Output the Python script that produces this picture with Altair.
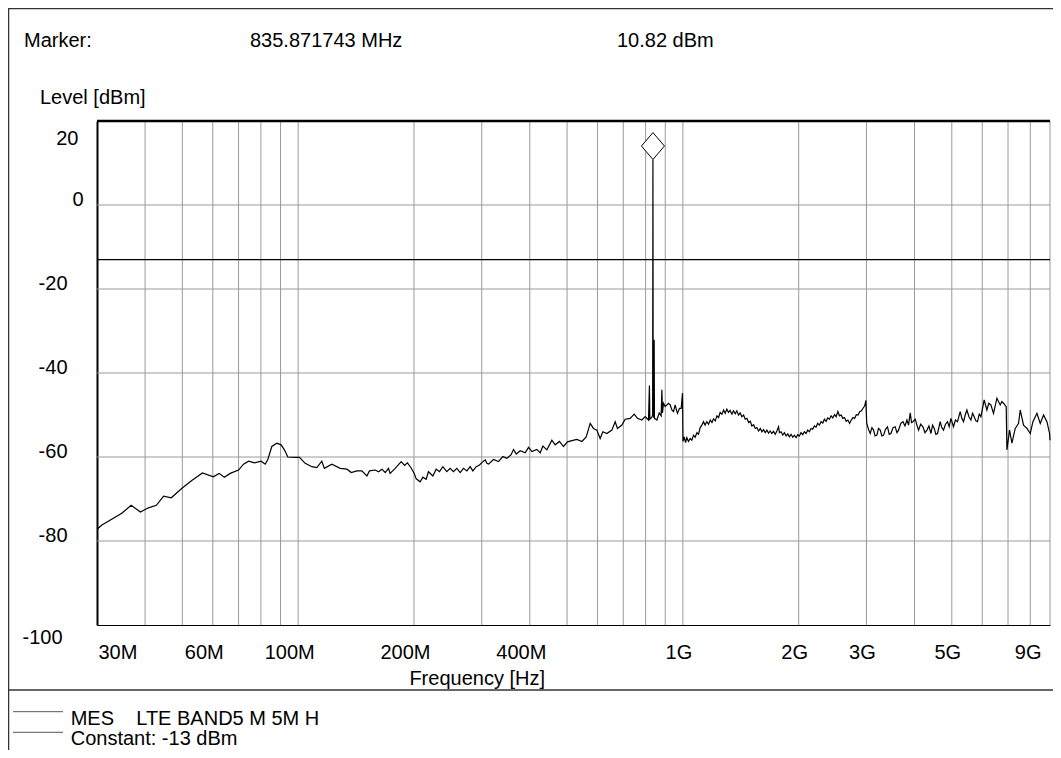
import altair as alt
import pandas as pd

# ---------------- data ----------------
freq_mhz = [
    30.0, 30.9, 34.8, 36.8, 38.9, 40.8, 42.8, 44.7, 46.8, 49.8, 52.9, 56.4, 60.2, 62.3, 64.3, 66.6,
    70.0, 72.1, 74.3, 77.0, 80.1, 82.1, 83.4, 85.4, 88.0, 90.3, 92.1, 94.0, 98.2, 100.8, 104.3, 108.5,
    111.8, 115.2, 117.0, 122.3, 128.6, 133.9, 137.4, 142.1, 146.4, 150.9, 153.2, 158.6, 161.8, 165.1,
    168.4, 171.7, 173.4, 178.7, 185.3, 189.0, 192.3, 196.3, 200.3, 202.7, 207.5, 210.9, 215.1, 218.1,
    223.9, 228.4, 233.0, 237.7, 243.5, 248.3, 253.3, 258.5, 263.7, 269.0, 274.5, 280.0, 284.5, 290.2,
    296.0, 302.1, 306.3, 309.4, 312.5, 322.0, 331.7, 340.5, 348.8, 357.3, 362.9, 368.8, 377.7, 389.2,
    397.0, 405.1, 417.4, 425.7, 432.6, 443.1, 456.5, 465.7, 477.8, 489.4, 501.2, 514.6, 530.2, 546.4,
    560.6, 574.2, 585.7, 597.5, 609.5, 619.4, 634.4, 653.7, 666.8, 676.1, 694.1, 707.9, 729.4, 747.1,
    762.1, 782.4, 798.0, 814.0, 818.5, 820.5, 830.6, 834.5, 835.871743, 837.2, 840.5, 842.0, 843.5,
    855.9, 868.0, 878.0, 881.9, 885.0, 890.5, 899.5, 917.5, 926.9, 936.3, 945.4, 955.0, 964.7, 968.3,
    979.9, 990.0, 997.7,
    1000.5, 1008, 1016, 1024, 1034, 1044.7, 1055, 1066, 1076, 1088, 1098, 1109, 1120, 1131.6, 1142,
    1154, 1166, 1178, 1190, 1201.5, 1214, 1226, 1238, 1250, 1263, 1276, 1288, 1301, 1314, 1327, 1341,
    1354, 1368, 1381, 1395, 1409, 1423, 1438, 1452, 1467, 1482, 1497, 1511, 1527, 1542, 1557, 1573,
    1589, 1605, 1620, 1637, 1653, 1670, 1686, 1703, 1720, 1738, 1755, 1773, 1782, 1800, 1818, 1836,
    1855, 1873, 1892, 1911, 1930, 1949, 1969, 1988, 2008, 2028, 2049, 2069, 2090, 2111, 2132, 2153,
    2175, 2197, 2219, 2241, 2264, 2287, 2310, 2333, 2356, 2380, 2404, 2428, 2453, 2478, 2503, 2528,
    2553, 2579, 2605, 2631, 2658, 2685, 2712, 2740, 2768, 2796, 2824, 2853, 2882, 2911, 2940, 2969,
    2990,
    3005, 3040, 3069, 3100, 3131, 3160, 3194, 3225, 3258, 3290, 3323, 3363, 3403, 3438, 3473, 3518,
    3564, 3600, 3636, 3685, 3733, 3778, 3823, 3860, 3899, 3930, 3962, 4017, 4058, 4098, 4150, 4207,
    4258, 4309, 4360, 4413, 4457, 4501, 4546, 4591, 4665, 4710, 4758, 4815, 4873, 4923, 4973, 5051,
    5110, 5174, 5258, 5310, 5363, 5418, 5473, 5540, 5606, 5662, 5718, 5775, 5831, 5892, 5952, 6069,
    6168, 6240, 6318, 6418, 6550, 6681, 6750, 6815, 6925,
    6954, 7064, 7166, 7309, 7456, 7531, 7682, 7839, 7996, 8126, 8323, 8490, 8660, 8837, 8977, 9000,
]
level_dbm = [
    -77.2, -76.2, -73.4, -71.5, -73.1, -72.1, -71.5, -69.3, -69.7, -67.5, -65.6, -63.8, -64.7, -63.9, -64.8, -63.9,
    -63.1, -61.7, -61.0, -61.4, -61.0, -61.7, -60.6, -57.5, -56.7, -57.1, -58.3, -60.0, -60.1, -60.1, -61.5, -62.3,
    -62.5, -61.0, -62.7, -61.7, -62.7, -62.9, -63.7, -63.3, -63.3, -64.5, -63.3, -63.1, -63.5, -62.9,
    -63.7, -62.7, -63.9, -62.7, -61.1, -62.0, -61.4, -62.5, -63.9, -65.2, -65.9, -64.8, -65.3, -63.5,
    -64.5, -62.9, -63.5, -62.3, -63.5, -62.7, -63.5, -62.7, -63.7, -62.7, -63.3, -62.3, -63.3, -62.3,
    -61.9, -61.1, -60.7, -61.5, -61.7, -60.6, -61.1, -59.9, -60.3, -59.5, -58.2, -59.3, -58.5, -59.0,
    -57.7, -58.7, -58.2, -59.0, -57.4, -58.3, -56.0, -57.1, -56.3, -57.5, -56.4, -56.1, -55.8, -56.3,
    -55.2, -52.0, -53.2, -53.6, -55.6, -54.0, -54.4, -53.6, -51.6, -53.2, -52.4, -51.0, -50.8, -49.8,
    -50.8, -51.2, -50.4, -51.2, -43.0, -51.0, -50.5, -50.0, 10.82, -50.0, -50.6, -32.1, -50.8,
    -51.2, -49.5, -50.2, -44.0, -49.5, -47.2, -48.0, -47.2, -47.6, -48.8, -49.2, -47.6, -49.2, -49.6,
    -48.4, -48.4, -44.8,
    -56.3, -55.2, -56.6, -55.4, -56.3, -55.6, -56.0, -54.8, -55.3, -54.2, -54.6, -53.0, -52.4, -51.6, -52.4,
    -51.6, -52.2, -51.2, -51.8, -50.9, -51.4, -50.2, -50.6, -49.4, -49.8, -48.8, -49.6, -48.6, -49.4, -48.9, -49.8,
    -49.0, -49.7, -49.0, -50.0, -49.5, -50.4, -50.0, -51.0, -50.8, -51.8, -51.5, -52.6, -52.3, -53.2, -53.0, -53.8,
    -53.2, -54.0, -53.5, -54.2, -53.6, -54.3, -53.8, -54.4, -53.9, -54.6, -53.8, -52.8, -54.2, -54.0, -54.8, -54.2,
    -55.0, -54.5, -55.2, -54.6, -55.3, -54.8, -55.4, -54.7, -55.0, -54.2, -54.7, -54.0, -54.4, -53.6, -54.0, -53.2,
    -53.4, -52.6, -52.9, -52.0, -52.4, -51.6, -51.9, -51.0, -51.5, -50.7, -51.0, -50.2, -50.7, -49.9, -50.4, -49.2,
    -50.2, -50.0, -50.8, -50.6, -51.5, -51.2, -52.0, -51.2, -50.6, -50.8, -49.9, -50.0, -49.2, -49.0, -48.4, -47.8,
    -46.5,
    -52.0, -53.5, -54.4, -53.0, -53.6, -55.0, -54.8, -53.2, -53.6, -55.0, -54.8, -53.4, -52.8, -54.6, -54.4, -53.0,
    -52.8, -54.2, -53.6, -52.0, -51.6, -52.6, -51.2, -52.4, -49.5, -51.8, -51.6, -51.0, -52.4, -53.6, -52.2, -52.8,
    -54.2, -53.6, -52.6, -54.4, -52.4, -53.2, -54.6, -54.4, -51.6, -53.0, -53.6, -52.2, -51.6, -52.8, -50.8, -52.8,
    -51.2, -51.6, -49.2, -50.8, -51.6, -50.0, -48.8, -50.4, -51.2, -49.6, -50.4, -51.4, -51.6, -49.8, -50.4, -46.4,
    -48.8, -47.2, -47.6, -49.6, -46.0, -47.6, -46.8, -47.2, -48.0,
    -58.3, -53.6, -56.7, -53.2, -52.0, -48.8, -52.4, -53.2, -54.4, -51.6, -49.6, -52.0, -50.0, -51.6, -54.4, -56.0,
]

grid_x_mhz = [40, 50, 60, 70, 80, 90, 100, 200, 300, 400, 500, 600, 700, 800, 900,
              1000, 2000, 3000, 4000, 5000, 6000, 7000, 8000, 9000]
grid_y_dbm = [0, -20, -40, -60, -80]
xtick_mhz = [30, 60, 100, 200, 400, 1000, 2000, 3000, 5000, 9000]
xtick_labels = ["30M", "60M", "100M", "200M", "400M", "1G", "2G", "3G", "5G", "9G"]
ytick_dbm = [20, 0, -20, -40, -60, -80, -100]
limit_dbm = [-13]
marker_mhz = [835.871743]
marker_dbm = [10.82]

marker_text = ["Marker:", "835.871743 MHz", "10.82 dBm"]
legend_text = ["MES\u00a0\u00a0\u00a0\u00a0LTE BAND5 M 5M H", "Constant: -13 dBm"]

# ---------------- chart ----------------
FONT = "Liberation Sans"
FS = 20
W, H = 953, 504
GRID = "#9a9a9a"

trace = pd.DataFrame({"f": freq_mhz, "v": level_dbm})
xscale = alt.Scale(type="log", domain=[30, 9000], nice=False)
yscale = alt.Scale(domain=[-100, 20], nice=False, zero=False)

label_expr = " : ".join(f"datum.value == {v} ? '{t}'" for v, t in zip(xtick_mhz, xtick_labels)) + " : ''"

xaxis = alt.Axis(
    values=xtick_mhz, labelExpr=label_expr, title=None, grid=False, ticks=False,
    domain=True, domainColor="black", domainWidth=1,
    labelFont=FONT, labelFontSize=FS, labelColor="black", labelPadding=17,
    labelFlush=True, labelOverlap=False,
    labelOffset={"condition": [{"test": "datum.value <= 30", "value": 1},
                               {"test": "datum.value >= 9000", "value": -9},
                               {"test": "datum.value < 1000", "value": -9}],
                 "value": -4.5},
)
yaxis = alt.Axis(
    values=ytick_dbm, title=None, grid=False, ticks=False,
    domain=True, domainColor="black", domainWidth=2,
    labelExpr="'' + datum.value",
    labelFont=FONT, labelFontSize=FS, labelColor="black", labelAlign="right",
    labelOverlap=False,
    labelBaseline={"condition": {"test": "datum.value == 20 || datum.value == -100", "value": "top"},
                   "value": "alphabetic"},
    labelPadding={"condition": [{"test": "datum.value == 0", "value": 14},
                                {"test": "datum.value == 20", "value": 19},
                                {"test": "datum.value == -100", "value": 35}],
                  "value": 30},
    labelOffset={"condition": [{"test": "datum.value == 20", "value": 7},
                               {"test": "datum.value == -100", "value": 2}],
                 "value": 0},
)


def X(field="f"):
    return alt.X(f"{field}:Q", scale=xscale, axis=xaxis)


def Y(field="v"):
    return alt.Y(f"{field}:Q", scale=yscale, axis=yaxis)


vgrid = alt.Chart(pd.DataFrame({"f": grid_x_mhz})).mark_rule(color=GRID, strokeWidth=1).encode(x=X())
hgrid = alt.Chart(pd.DataFrame({"v": grid_y_dbm})).mark_rule(color=GRID, strokeWidth=1).encode(y=Y())
limit = alt.Chart(pd.DataFrame({"v": limit_dbm})).mark_rule(color="black", strokeWidth=1.3).encode(y=Y())
line = alt.Chart(trace).mark_line(color="black", strokeWidth=1.2, interpolate="linear").encode(x=X(), y=Y())
marker = alt.Chart(pd.DataFrame({"f": marker_mhz, "v": marker_dbm})).mark_point(
    shape="M-1,0L0,-1.17L1,0L0,1.17Z", size=529, filled=True, fill="white",
    stroke="black", strokeWidth=1, opacity=1, yOffset=-13.5
).encode(x=X(), y=Y())

one = alt.Data(values=[{}])


def hline(y, x1, x2, color="black", w=1.0):
    return alt.Chart(one).mark_rule(color=color, strokeWidth=w).encode(
        x=alt.value(x1), x2=alt.value(x2), y=alt.value(y))


def vline(x, y1, y2, color="black", w=1.0):
    return alt.Chart(one).mark_rule(color=color, strokeWidth=w).encode(
        x=alt.value(x), y=alt.value(y1), y2=alt.value(y2))


def label(text, x, y, align="left"):
    return alt.Chart(one).mark_text(
        text=text, align=align, baseline="alphabetic", font=FONT, fontSize=FS, color="black"
    ).encode(x=alt.value(x), y=alt.value(y))


layers = [
    vgrid, hgrid, limit, line, marker,
    hline(0, 0, W, "black", 2.5),            # top edge of plot frame
    hline(-112.5, -88.5, 956, "#333", 1.5),  # page frame top
    vline(-88.5, -113, 629, "#333", 1.5),    # page frame left
    hline(569, -89, 956, "#333", 1.5),       # divider above legend
    hline(590.7, -84, -34, "#555", 1),       # legend sample lines
    hline(611.3, -84, -34, "#555", 1),
    label(marker_text[0], -73, -74),
    label(marker_text[1], 153, -74),
    label(marker_text[2], 520, -74),
    label("Level [dBm]", -57, -17),
    label("Frequency [Hz]", 448, 563.5, "right"),
    label(legend_text[0], -26.3, 603.5),
    label(legend_text[1], -26.3, 624),
]

chart = alt.layer(*layers).properties(
    width=W, height=H,
    autosize=alt.AutoSizeParams(type="none"),
    padding={"left": 89, "top": 113, "right": 3, "bottom": 125},
    background="white",
).configure_view(stroke=None)

chart.save("out.html", embed_options={"renderer": "svg", "actions": False})
